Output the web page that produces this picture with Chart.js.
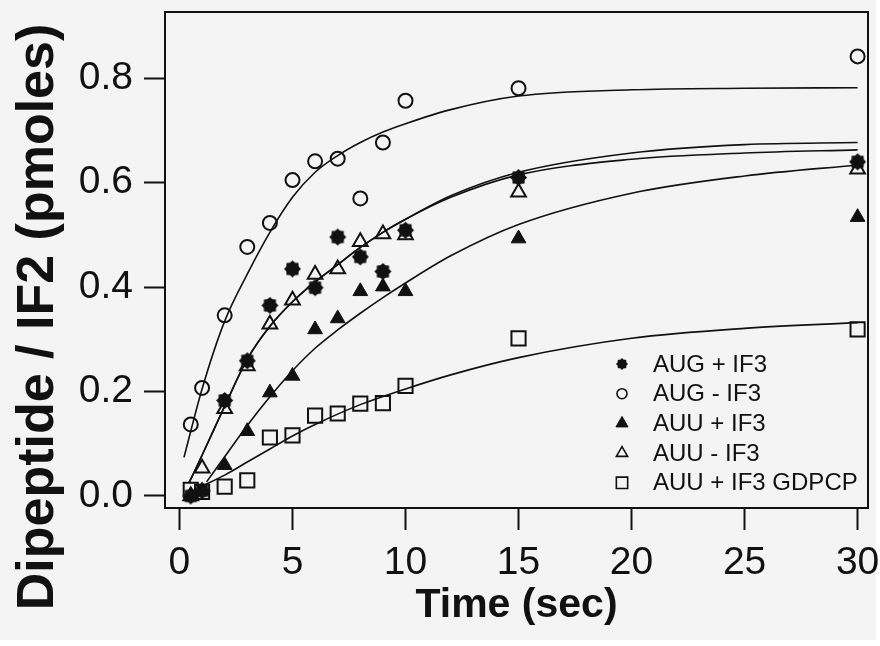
<!DOCTYPE html>
<html>
<head>
<meta charset="utf-8">
<script src="https://cdn.jsdelivr.net/npm/chart.js"></script>
<style>
  html, body { margin: 0; padding: 0; background: #ffffff; }
  #wrap { width: 880px; height: 646px; }
</style>
</head>
<body>
<div id="wrap"><canvas id="dipeptide" width="880" height="646"></canvas></div>
<script>
// time points (sec) shared by all measured series
const timePts = [0.5, 1, 2, 3, 4, 5, 6, 7, 8, 9, 10, 15, 30];

// dipeptide / IF2 (pmoles)
const augPlusIF3  = [0.0, 0.01, 0.183, 0.259, 0.365, 0.435, 0.399, 0.496, 0.458, 0.430, 0.509, 0.610, 0.640];
const augMinusIF3 = [0.137, 0.207, 0.346, 0.477, 0.523, 0.605, 0.641, 0.646, 0.570, 0.677, 0.757, 0.781, 0.842];
const auuPlusIF3  = [0.0, 0.01, 0.059, 0.124, 0.198, 0.230, 0.319, 0.340, 0.392, 0.401, 0.392, 0.493, 0.534];
const auuMinusIF3 = [0.0, 0.053, 0.167, 0.249, 0.329, 0.375, 0.424, 0.435, 0.487, 0.502, 0.500, 0.582, 0.626];
const auuGdpcp    = [0.012, 0.008, 0.018, 0.030, 0.112, 0.116, 0.154, 0.158, 0.177, 0.178, 0.211, 0.302, 0.319];

// fitted curves
const augMinusFitT = [0.2, 1, 2, 3, 4, 5, 6, 7, 8, 9, 10, 12, 15, 20, 25, 30];
const augMinusFitV = [0.074, 0.205, 0.335, 0.425, 0.505, 0.572, 0.62, 0.652, 0.677, 0.697, 0.713, 0.74, 0.766, 0.778, 0.781, 0.782];
const midFitT      = [0.42, 1, 2, 3, 4, 5, 6, 7, 8, 9, 10, 12, 15, 20, 25, 30];
const augPlusFitV  = [0.025, 0.078, 0.172, 0.262, 0.325, 0.372, 0.41, 0.443, 0.476, 0.505, 0.53, 0.575, 0.62, 0.657, 0.673, 0.677];
const auuMinusFitV = [0.025, 0.078, 0.172, 0.262, 0.325, 0.372, 0.41, 0.443, 0.476, 0.505, 0.53, 0.572, 0.615, 0.645, 0.657, 0.663];
const auuPlusFitT  = [1.2, 2, 3, 4, 5, 6, 7, 8, 9, 10, 12, 15, 20, 25, 30];
const auuPlusFitV  = [0.027, 0.075, 0.135, 0.19, 0.24, 0.283, 0.318, 0.35, 0.38, 0.408, 0.46, 0.52, 0.58, 0.613, 0.634];
const gdpcpFitT    = [0.9, 2, 3, 4, 5, 6, 8, 10, 12, 15, 20, 25, 30];
const gdpcpFitV    = [0.017, 0.04, 0.065, 0.09, 0.115, 0.137, 0.175, 0.205, 0.232, 0.265, 0.302, 0.321, 0.332];

const xTicks = [0, 5, 10, 15, 20, 25, 30];
const yTicks = [0, 0.2, 0.4, 0.6, 0.8];

const xTitle = 'Time (sec)';
const yTitle = 'Dipeptide / IF2 (pmoles)';

const ink = '#111111';
const tickFont = { family: '"Liberation Sans", Arial, sans-serif', size: 39 };

function pts(xs, ys) {
  return xs.map((x, i) => ({ x: x, y: ys[i] }));
}

// filled 8-point burst used for AUG + IF3
function makeBurst(r) {
  const c = document.createElement('canvas');
  const s = Math.ceil(r * 2 + 2);
  c.width = c.height = s;
  const g = c.getContext('2d');
  g.fillStyle = ink;
  g.beginPath();
  for (let i = 0; i < 16; i++) {
    const a = i * Math.PI / 8 - Math.PI / 2;
    const rr = i % 2 ? r * 0.78 : r;
    g.lineTo(s / 2 + rr * Math.cos(a), s / 2 + rr * Math.sin(a));
  }
  g.closePath();
  g.fill();
  return c;
}

const burstBig = makeBurst(8.5);
const burstSmall = makeBurst(6);

function marks(label, ys, style, filled, radius, legendStyle, legendRadius) {
  return {
    label: label,
    data: pts(timePts, ys),
    showLine: false,
    pointStyle: style,
    pointRadius: radius,
    pointHoverRadius: radius,
    pointBorderWidth: filled ? 1 : 2,
    pointBorderColor: ink,
    pointBackgroundColor: filled ? ink : 'rgba(0,0,0,0)',
    legendStyle: legendStyle || style,
    legendRadius: legendRadius,
    order: 1
  };
}

function fit(xs, ys) {
  return {
    label: '',
    data: pts(xs, ys),
    showLine: true,
    fill: false,
    borderColor: ink,
    borderWidth: 1.6,
    pointRadius: 0,
    cubicInterpolationMode: 'monotone',
    isFit: true,
    order: 2
  };
}

// frame, background, rotated y title and the inset legend
const decor = {
  id: 'decor',
  beforeDraw(chart) {
    const ctx = chart.ctx;
    ctx.save();
    ctx.fillStyle = '#f4f4f4';
    ctx.fillRect(0, 0, 876, 640);
    ctx.restore();
  },
  afterDraw(chart) {
    const ctx = chart.ctx;
    const a = chart.chartArea;
    ctx.save();
    ctx.strokeStyle = ink;
    ctx.lineWidth = 2;
    ctx.strokeRect(a.left, a.top, a.right - a.left, a.bottom - a.top);

    ctx.fillStyle = ink;
    ctx.translate(39, 317);
    ctx.rotate(-Math.PI / 2);
    ctx.font = 'bold 52px "Liberation Sans", Arial, sans-serif';
    ctx.textAlign = 'center';
    ctx.textBaseline = 'middle';
    ctx.fillText(yTitle, 0, 0);
    ctx.restore();

    ctx.save();
    ctx.font = '24px "Liberation Sans", Arial, sans-serif';
    ctx.textAlign = 'left';
    ctx.textBaseline = 'middle';
    let y = 364;
    chart.data.datasets.filter(d => !d.isFit).forEach(d => {
      ctx.fillStyle = d.pointBackgroundColor;
      ctx.strokeStyle = ink;
      ctx.lineWidth = d.pointBorderWidth === 1 ? 1 : 1.6;
      Chart.helpers.drawPoint(ctx, {
        pointStyle: d.legendStyle,
        radius: d.legendRadius,
        borderWidth: ctx.lineWidth,
        rotation: 0
      }, 622, y);
      ctx.fillStyle = ink;
      ctx.fillText(d.label, 653, y + 1);
      y += 29.7;
    });
    ctx.restore();
  }
};

new Chart(document.getElementById('dipeptide'), {
  type: 'scatter',
  data: {
    datasets: [
      marks('AUG + IF3', augPlusIF3, burstBig, true, 8.5, burstSmall, 6),
      marks('AUG - IF3', augMinusIF3, 'circle', false, 7, 'circle', 5),
      marks('AUU + IF3', auuPlusIF3, 'triangle', true, 8.5, 'triangle', 7),
      marks('AUU - IF3', auuMinusIF3, 'triangle', false, 8.5, 'triangle', 6.5),
      marks('AUU + IF3 GDPCP', auuGdpcp, 'rect', false, 10, 'rect', 8),
      fit(augMinusFitT, augMinusFitV),
      fit(midFitT, augPlusFitV),
      fit(midFitT, auuMinusFitV),
      fit(auuPlusFitT, auuPlusFitV),
      fit(gdpcpFitT, gdpcpFitV)
    ]
  },
  options: {
    responsive: false,
    animation: false,
    layout: { padding: { left: 0, top: 8, right: 12, bottom: 0 } },
    plugins: {
      legend: { display: false },
      tooltip: { enabled: false }
    },
    scales: {
      x: {
        type: 'linear',
        min: -0.64,
        max: 30.46,
        afterBuildTicks: s => { s.ticks = xTicks.map(v => ({ value: v })); },
        afterFit: s => { s.height = 138; s.paddingLeft = 0; s.paddingRight = 0; },
        grid: { drawOnChartArea: false, drawTicks: true, tickLength: 22, tickWidth: 2, tickColor: ink },
        border: { display: true, color: ink, width: 2 },
        ticks: { color: ink, font: tickFont, padding: 10, maxRotation: 0, callback: v => String(v) },
        title: {
          display: true,
          text: xTitle,
          color: ink,
          font: { family: '"Liberation Sans", Arial, sans-serif', size: 41, weight: 'bold', lineHeight: 1.2 },
          padding: { top: 0, bottom: 16 }
        }
      },
      y: {
        type: 'linear',
        min: -0.023,
        max: 0.927,
        afterBuildTicks: s => { s.ticks = yTicks.map(v => ({ value: v })); },
        afterFit: s => { s.width = 165; s.paddingTop = 0; s.paddingBottom = 0; },
        grid: { drawOnChartArea: false, drawTicks: true, tickLength: 21, tickWidth: 2, tickColor: ink },
        border: { display: true, color: ink, width: 2 },
        ticks: { color: ink, font: tickFont, padding: 11, callback: v => v.toFixed(1) }
      }
    }
  },
  plugins: [decor]
});
</script>
</body>
</html>
